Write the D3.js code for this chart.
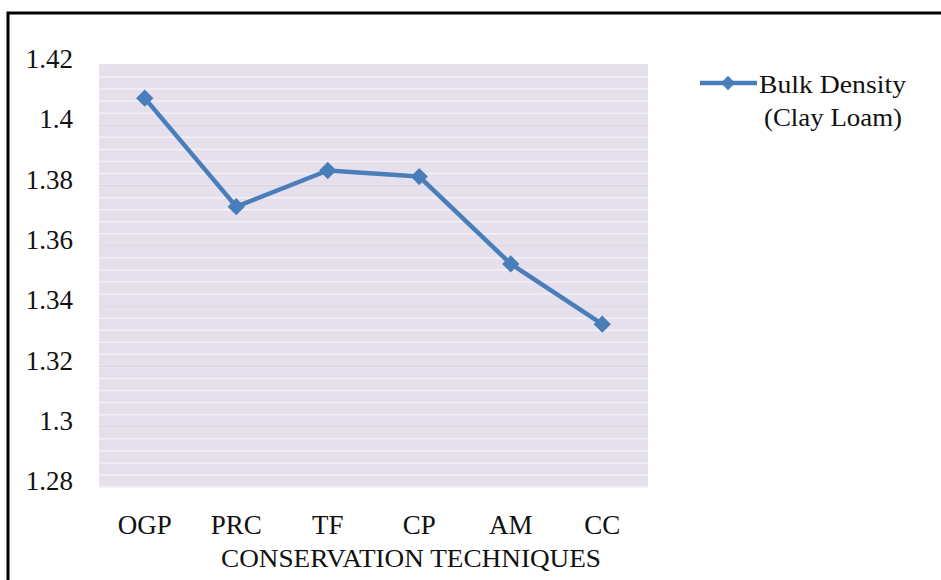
<!DOCTYPE html>
<html><head><meta charset="utf-8">
<script src="https://cdn.jsdelivr.net/npm/d3@7"></script>
<style>body{margin:0;background:#fff}svg{display:block}text{font-family:"Liberation Serif","Times New Roman",serif;fill:#111}</style>
</head><body><svg id="c" width="941" height="580"></svg>
<script>
const categories = ["OGP","PRC","TF","CP","AM","CC"];
const values = [1.409,1.373,1.385,1.383,1.354,1.334];
const yTicks = [1.28,1.3,1.32,1.34,1.36,1.38,1.4,1.42];
const yTickLabels = ["1.28","1.3","1.32","1.34","1.36","1.38","1.4","1.42"];
const seriesName = ["Bulk Density","(Clay Loam)"];
const axisTitle = "CONSERVATION TECHNIQUES";

const FF = '"Liberation Serif","Times New Roman",serif';
const svg = d3.select("#c");
const W = 941, H = 580;
svg.append("rect").attr("x",8).attr("y",13).attr("width",W).attr("height",H).attr("fill","none").attr("stroke","#000").attr("stroke-width",3);

const L = 99, R = 648, T = 65, B = 487;
const x = d3.scaleBand().domain(categories).range([L,R]);
const y = d3.scaleLinear().domain([1.28,1.42]).range([B,T]);

svg.append("rect").attr("x",L).attr("y",T).attr("width",R-L).attr("height",B-T).attr("fill","#e5e0ec");
const minor = d3.range(0,36).map(i=>1.28+i*0.004);
svg.append("g").selectAll("line").data(minor).join("line")
  .attr("x1",L).attr("x2",R).attr("y1",d=>y(d)).attr("y2",d=>y(d))
  .attr("stroke","#f3f1f6").attr("stroke-width",1.5);
svg.append("g").selectAll("line").data(yTicks.slice(1)).join("line")
  .attr("x1",L).attr("x2",R).attr("y1",d=>y(d)).attr("y2",d=>y(d))
  .attr("stroke","#d9d4e0").attr("stroke-width",1.2);

const ya = d3.axisLeft(y).tickValues(yTicks).tickFormat((d,i)=>yTickLabels[i]).tickSize(0).tickPadding(26);
const gy = svg.append("g").attr("transform",`translate(${L},0)`).call(ya).attr("font-family",FF);
gy.select(".domain").remove();
gy.selectAll("text").attr("font-size","27px").attr("dy","0.1em").attr("fill","#111");

const xa = d3.axisBottom(x).tickSize(0).tickPadding(28);
const gx = svg.append("g").attr("transform",`translate(0,${B})`).call(xa).attr("font-family",FF);
gx.select(".domain").remove();
gx.selectAll("text").attr("font-size","27px").attr("fill","#111");

svg.append("text").attr("x",411).attr("y",567).attr("text-anchor","middle").attr("font-family",FF)
  .attr("textLength",380).attr("lengthAdjust","spacingAndGlyphs")
  .attr("font-size","25px").text(axisTitle);

const color = "#4a7ebb";
const line = d3.line().x((d,i)=>x(categories[i])+x.bandwidth()/2).y(d=>y(d));
svg.append("path").datum(values).attr("d",line).attr("fill","none").attr("stroke",color).attr("stroke-width",4.5).attr("stroke-linejoin","round");
const diamond = d3.symbol().type(d3.symbolDiamond2).size(190);
svg.append("g").selectAll("path").data(values).join("path")
  .attr("d",diamond).attr("fill",color)
  .attr("transform",(d,i)=>`translate(${x(categories[i])+x.bandwidth()/2},${y(d)})`);

const lg = svg.append("g").attr("font-family",FF);
lg.append("line").attr("x1",700).attr("x2",757).attr("y1",83).attr("y2",83).attr("stroke",color).attr("stroke-width",4.5);
lg.append("path").attr("d",d3.symbol().type(d3.symbolDiamond2).size(130)).attr("fill",color).attr("transform","translate(728,83)");
lg.append("text").attr("x",759).attr("y",93).attr("font-family",FF).attr("textLength",147).attr("lengthAdjust","spacingAndGlyphs").attr("font-size","26px").text(seriesName[0]);
lg.append("text").attr("x",764).attr("y",126).attr("font-family",FF).attr("textLength",138).attr("lengthAdjust","spacingAndGlyphs").attr("font-size","26px").text(seriesName[1]);
</script></body></html>
